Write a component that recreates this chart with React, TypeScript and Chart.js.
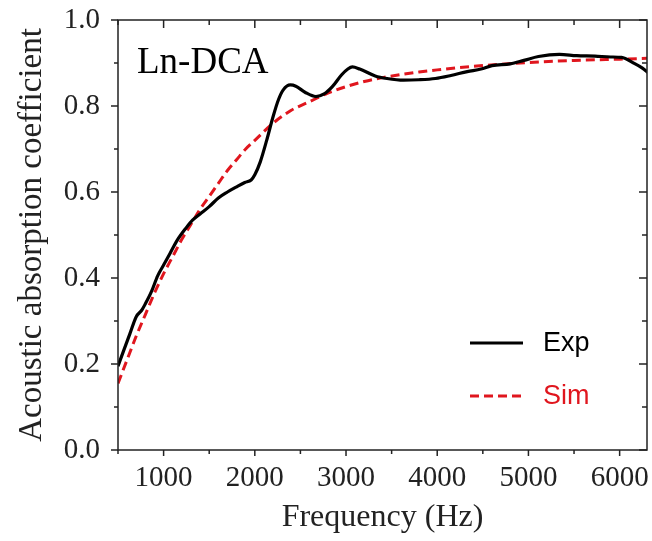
import React, { useEffect, useRef } from "react";
import { Chart, registerables } from "chart.js";

Chart.register(...registerables);

const EXP_FREQ = [500, 560, 630, 700, 760, 800, 870, 935, 1000, 1070, 1150, 1245, 1320, 1400, 1500, 1600, 1700, 1800, 1890, 1960, 2000, 2060, 2130, 2200, 2260, 2310, 2390, 2450, 2550, 2670, 2760, 2850, 2950, 3020, 3070, 3150, 3320, 3450, 3630, 3800, 3980, 4150, 4330, 4480, 4600, 4800, 4950, 5110, 5340, 5530, 5730, 5900, 6020, 6160, 6250, 6320];
const EXP_ALPHA = [0.195, 0.23, 0.27, 0.31, 0.325, 0.34, 0.37, 0.405, 0.43, 0.457, 0.488, 0.516, 0.535, 0.549, 0.566, 0.586, 0.6, 0.612, 0.622, 0.628, 0.64, 0.67, 0.72, 0.775, 0.815, 0.837, 0.849, 0.846, 0.832, 0.822, 0.828, 0.845, 0.872, 0.886, 0.891, 0.886, 0.87, 0.864, 0.86, 0.861, 0.864, 0.871, 0.88, 0.886, 0.894, 0.898, 0.906, 0.915, 0.92, 0.917, 0.916, 0.914, 0.913, 0.899, 0.888, 0.876];

const SIM_FREQ = [500, 600, 700, 800, 900, 1000, 1100, 1200, 1300, 1400, 1500, 1600, 1700, 1800, 1900, 2000, 2200, 2400, 2600, 2800, 3000, 3200, 3400, 3600, 3800, 4000, 4500, 5000, 5500, 6000, 6320];
const SIM_ALPHA = [0.155, 0.21, 0.265, 0.315, 0.365, 0.41, 0.45, 0.49, 0.525, 0.56, 0.59, 0.62, 0.65, 0.675, 0.7, 0.72, 0.76, 0.79, 0.81, 0.83, 0.845, 0.857, 0.866, 0.873, 0.879, 0.884, 0.894, 0.901, 0.906, 0.909, 0.911];

const X_TICKS = [1000, 2000, 3000, 4000, 5000, 6000];
const X_MINOR = [500, 1500, 2500, 3500, 4500, 5500];
const Y_TICKS = [0, 0.2, 0.4, 0.6, 0.8, 1.0];
const Y_MINOR = [0.1, 0.3, 0.5, 0.7, 0.9];

const SERIES_NAMES = ["Exp", "Sim"];
const SERIES_COLORS = ["#000000", "#e0161e"];
const SAMPLE_LABEL = "Ln-DCA";

const AXIS_COLOR = "#222222";
const SERIF = "'Liberation Serif', 'Times New Roman', serif";
const SANS = "'Liberation Sans', Arial, sans-serif";

const framePlugin = {
  id: "frameTicks",
  afterDraw(chart: any) {
    const { ctx, chartArea } = chart;
    const { left, right, top, bottom } = chartArea;
    const xs = chart.scales.x;
    const ys = chart.scales.y;
    ctx.save();
    ctx.strokeStyle = AXIS_COLOR;
    ctx.lineWidth = 1.5;
    ctx.strokeRect(left, top, right - left, bottom - top);
    const line = (x1: number, y1: number, x2: number, y2: number) => {
      ctx.beginPath();
      ctx.moveTo(x1, y1);
      ctx.lineTo(x2, y2);
      ctx.stroke();
    };
    X_TICKS.forEach((v) => {
      const p = xs.getPixelForValue(v);
      line(p, bottom, p, bottom + 6);
      line(p, top, p, top + 8);
    });
    X_MINOR.forEach((v) => {
      const p = xs.getPixelForValue(v);
      line(p, bottom, p, bottom + 4);
      line(p, top, p, top + 5);
    });
    Y_TICKS.forEach((v) => {
      const p = ys.getPixelForValue(v);
      line(left - 7, p, left, p);
      line(right - 8, p, right, p);
    });
    Y_MINOR.forEach((v) => {
      const p = ys.getPixelForValue(v);
      line(left - 4, p, left, p);
      line(right - 5, p, right, p);
    });

    // Sample label
    ctx.fillStyle = "#000";
    ctx.font = `37px ${SERIF}`;
    ctx.textAlign = "left";
    ctx.textBaseline = "middle";
    ctx.fillText(SAMPLE_LABEL, left + 19, top + 43);

    // Legend
    const lx1 = right - 177;
    const lx2 = right - 124;
    const tx = right - 104;
    const ly = [bottom - 107, bottom - 54];
    ctx.font = `27px ${SANS}`;
    SERIES_NAMES.forEach((name, i) => {
      ctx.strokeStyle = SERIES_COLORS[i];
      ctx.lineWidth = 3;
      ctx.setLineDash(i === 1 ? [9, 5] : []);
      line(lx1, ly[i], lx2, ly[i]);
      ctx.setLineDash([]);
      ctx.fillStyle = SERIES_COLORS[i];
      ctx.fillText(name, tx, ly[i] + 1);
    });
    ctx.restore();
  },
};

export default function App() {
  const ref = useRef<HTMLCanvasElement | null>(null);
  useEffect(() => {
    if (!ref.current) return;
    const chart = new Chart(ref.current, {
      type: "line",
      data: {
        datasets: [
          {
            label: SERIES_NAMES[0],
            data: EXP_FREQ.map((f, i) => ({ x: f, y: EXP_ALPHA[i] })),
            borderColor: SERIES_COLORS[0],
            borderWidth: 3.2,
            pointRadius: 0,
            cubicInterpolationMode: "monotone",
            fill: false,
          },
          {
            label: SERIES_NAMES[1],
            data: SIM_FREQ.map((f, i) => ({ x: f, y: SIM_ALPHA[i] })),
            borderColor: SERIES_COLORS[1],
            borderWidth: 3,
            borderDash: [9, 5],
            pointRadius: 0,
            cubicInterpolationMode: "monotone",
            fill: false,
          },
        ],
      },
      options: {
        animation: false,
        responsive: false,
        layout: { padding: { top: 20, right: 5, left: 0, bottom: 0 } },
        plugins: { legend: { display: false }, tooltip: { enabled: false } },
        scales: {
          x: {
            type: "linear",
            min: 500,
            max: 6300,
            afterBuildTicks: (s: any) => {
              s.ticks = X_TICKS.map((v) => ({ value: v }));
            },
            afterFit: (s: any) => {
              s.height = 91;
              s.paddingLeft = 0;
              s.paddingRight = 0;
            },
            grid: { display: false, drawTicks: false },
            border: { display: false },
            ticks: {
              padding: 11,
              color: AXIS_COLOR,
              font: { family: SERIF, size: 29 },
              maxRotation: 0,
              callback: (v: any) => String(v),
            },
            title: {
              display: true,
              text: "Frequency (Hz)",
              color: AXIS_COLOR,
              font: { family: SERIF, size: 32 },
              padding: { top: 0, bottom: 4 },
            },
          },
          y: {
            type: "linear",
            min: 0,
            max: 1,
            afterBuildTicks: (s: any) => {
              s.ticks = Y_TICKS.map((v) => ({ value: v }));
            },
            afterFit: (s: any) => {
              s.width = 118;
              s.paddingTop = 0;
              s.paddingBottom = 0;
            },
            grid: { display: false, drawTicks: false },
            border: { display: false },
            ticks: {
              padding: 18,
              color: AXIS_COLOR,
              font: { family: SERIF, size: 29 },
              callback: (v: any) => Number(v).toFixed(1),
            },
            title: {
              display: true,
              text: "Acoustic absorption coefficient",
              color: AXIS_COLOR,
              font: { family: SERIF, size: 33 },
              padding: { top: 13, bottom: 0 },
            },
          },
        },
      },
      plugins: [framePlugin],
    });
    return () => chart.destroy();
  }, []);
  return (
    <div style={{ position: "fixed", left: 0, top: 0, width: 652, height: 541, background: "#fff" }}>
      <canvas ref={ref} width={652} height={541} style={{ display: "block" }} />
    </div>
  );
}
